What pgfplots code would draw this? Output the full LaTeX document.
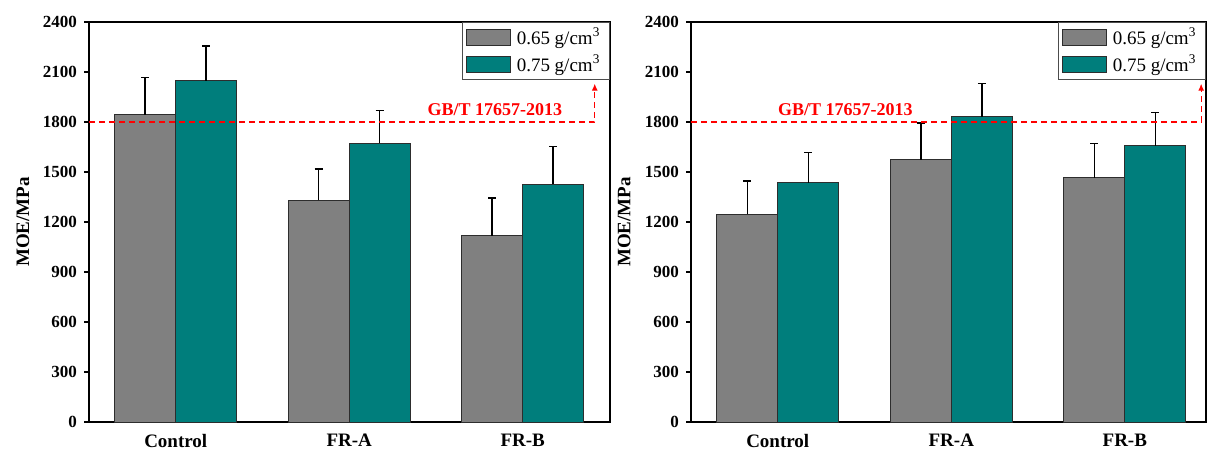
\documentclass[border=0pt]{standalone}
\usepackage{fontspec}
\setmainfont{Liberation Serif}
\usepackage{pgfplots}
\usepackage{pgfplotstable}
\pgfplotsset{compat=1.18}
\usetikzlibrary{arrows.meta}
\definecolor{barGray}{RGB}{128,128,128}
\definecolor{barTeal}{RGB}{0,126,124}
\definecolor{edgeC}{RGB}{45,45,45}

\pgfplotstableread{
x a aerr b berr
0 1844 222 2048 208
1 1330 188 1672 198
2 1116 228 1426 226
}\leftdata
\pgfplotstableread{
x a aerr b berr
0 1246 200 1434 182
1 1572 222 1830 200
2 1464 206 1656 200
}\rightdata

\pgfplotsset{
  mystyle/.style={
    scale only axis, height=200pt,
    ymin=0, ymax=2400, ytick={0,300,...,2400},
    xtick={0,1,2}, xticklabels={Control,FR-A,FR-B},
    xmin=-0.5,
    axis line style={line width=1pt},
    tick align=outside, ytick pos=left, xtick pos=bottom,
    major tick length=2.5pt,
    every tick/.style={black, line width=0.8pt},
    xtick style={draw=none},
    /pgf/number format/assume math mode=true,
    /pgf/number format/1000 sep={},
    yticklabel style={font=\fontsize{8.5}{10}\selectfont\bfseries},
    xticklabel style={font=\fontsize{9.5}{11}\selectfont\bfseries},
    ylabel={MOE/MPa},
    ylabel style={font=\fontsize{9.5}{11}\selectfont\bfseries, anchor=center},
    ybar=0pt, bar width=30.5pt,
    legend image code/.code={\draw[#1, line width=0.6pt] (0pt,-4pt) rectangle (22pt,4pt);},
    legend style={at={(1,1)}, anchor=north east, draw=black!70, line width=0.6pt,
      inner xsep=1.5pt, inner ysep=0.5pt, row sep=0pt,
      font=\fontsize{9.5}{11}\selectfont,
      /tikz/every even column/.append style={column sep=2pt},
      nodes={inner ysep=2pt, inner xsep=3pt}},
    legend cell align=left,
    error bars/error bar style={black, line width=0.75pt},
    error bars/error mark options={black, line width=0.75pt, mark size=2pt, rotate=90},
  },
  grayb/.style={fill=barGray, draw=edgeC, line width=0.5pt},
  tealb/.style={fill=barTeal, draw=edgeC, line width=0.5pt},
}

\begin{document}
\begin{tikzpicture}
\path[use as bounding box] (0,0) rectangle (604pt,224.5pt);

\begin{axis}[mystyle, at={(44.5pt,13.5pt)}, anchor=south west,
  width=260.5pt, xmax=2.503,
  ylabel style={at={(axis description cs:-0.1267,0.5)}}]
\addplot[grayb, error bars/.cd, y dir=plus, y explicit]
  table[x=x, y=a, y error=aerr] {\leftdata};
\addplot[tealb, error bars/.cd, y dir=plus, y explicit]
  table[x=x, y=b, y error=berr] {\leftdata};
\legend{0.65 g/cm\textsuperscript{3}, 0.75 g/cm\textsuperscript{3}}
\draw[red, dashed, dash pattern=on 3pt off 2pt, line width=0.6pt, -{Latex[length=3.5pt,width=3pt]}]
  (axis cs:-0.5,1800) -| (axis cs:2.415,2030);
\node[red, anchor=base, font=\fontsize{9}{11}\selectfont\bfseries] at (axis cs:1.84,1836) {GB/T 17657-2013};
\end{axis}

\begin{axis}[mystyle, at={(345.5pt,13.5pt)}, anchor=south west,
  width=257.5pt, xmax=2.468,
  ylabel style={at={(axis description cs:-0.130,0.5)}}]
\addplot[grayb, error bars/.cd, y dir=plus, y explicit]
  table[x=x, y=a, y error=aerr] {\rightdata};
\addplot[tealb, error bars/.cd, y dir=plus, y explicit]
  table[x=x, y=b, y error=berr] {\rightdata};
\legend{0.65 g/cm\textsuperscript{3}, 0.75 g/cm\textsuperscript{3}}
\draw[red, dashed, dash pattern=on 3pt off 2pt, line width=0.6pt, -{Latex[length=3.5pt,width=3pt]}]
  (axis cs:-0.5,1800) -| (axis cs:2.44,2030);
\node[red, anchor=base, font=\fontsize{9}{11}\selectfont\bfseries] at (axis cs:0.39,1836) {GB/T 17657-2013};
\end{axis}
\end{tikzpicture}
\end{document}
